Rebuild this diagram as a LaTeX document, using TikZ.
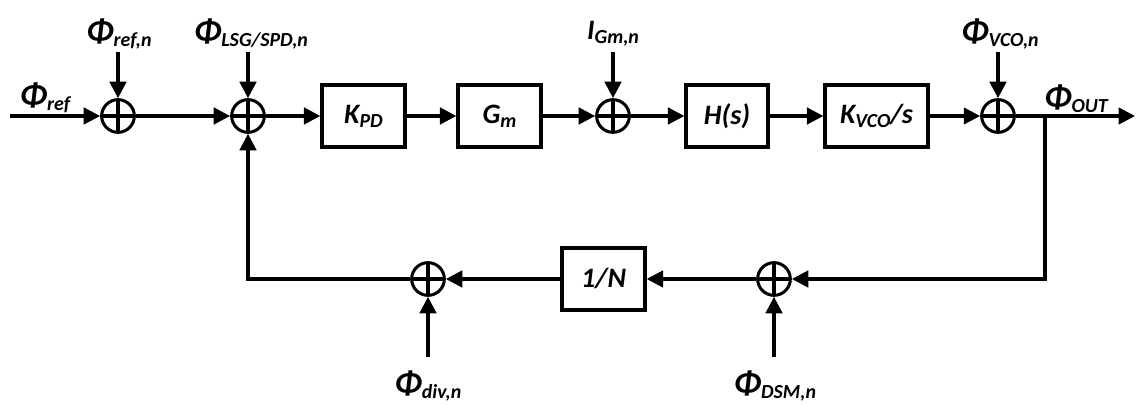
\documentclass[tikz,border=0pt]{standalone}
\usepackage{fontspec}
\setmainfont{Carlito}
\usetikzlibrary{arrows.meta}
\definecolor{Ink}{RGB}{0,0,0}
\newcommand{\subtxt}[1]{\raisebox{-0.15em}{\fontsize{17}{19}\selectfont #1}}
\newcommand{\phisym}{{\fontsize{29}{30}\selectfont Φ}}
\tikzset{
  sum/.style={circle,draw=Ink,line width=2.6pt,minimum size=0.98cm,inner sep=0pt,
    path picture={\draw[line width=2.6pt] (path picture bounding box.north)--(path picture bounding box.south)
      (path picture bounding box.west)--(path picture bounding box.east);}},
  blk/.style={draw=Ink,line width=2.8pt,minimum width=2.49cm,minimum height=1.86cm,inner sep=0pt,font=\bfseries\itshape\fontsize{24}{28}\selectfont},
  sig/.style={->,>={Triangle[length=14pt,width=14pt]},line width=2.8pt,draw=Ink},
  siglabel/.style={font=\bfseries\itshape\fontsize{24}{28}\selectfont,inner sep=1pt}
}

\begin{document}
\begin{tikzpicture}[x=0.03cm,y=0.03cm]
\useasboundingbox (0,0) rectangle (1143,405);
% forward path
\node[sum] (s1) at (118,289) {};
\node[sum] (s2) at (248,289) {};
\node[blk] (kpd) at (363.5,289) {K\subtxt{PD}};
\node[blk] (gm) at (499.5,289) {G\subtxt{m}};
\node[sum] (s3) at (613,289) {};
\node[blk,minimum width=2.46cm] (hs) at (727,289) {H(s)};
\node[blk,minimum width=3.09cm] (kvco) at (876.5,289) {K\subtxt{VCO}/s};
\node[sum] (s4) at (998,289) {};
% feedback path
\node[sum] (s5) at (774,126) {};
\node[blk] (ndiv) at (603.5,126) {1/N};
\node[sum] (s6) at (428,126) {};

\coordinate (in) at (10,289);
\coordinate (br) at (1045,289);
\coordinate (out) at (1135,289);
\coordinate (t1) at (118,353);
\coordinate (t2) at (248,353);
\coordinate (t3) at (613,353);
\coordinate (t4) at (998,353);
\coordinate (b5) at (774,48);
\coordinate (b6) at (428,48);

% labels
\node[siglabel] (lref) at (45,307) {\phisym\subtxt{ref}};
\node[siglabel] (lout) at (1076,306) {\phisym\subtxt{OUT}};
\node[siglabel] (lrefn) at (119,371) {\phisym\subtxt{ref,n}};
\node[siglabel] (llsg) at (251,371) {\phisym\subtxt{LSG/SPD,n}};
\node[siglabel] (lgm) at (613,371) {I\subtxt{Gm,n}};
\node[siglabel] (lvco) at (1000,371) {\phisym\subtxt{VCO,n}};
\node[siglabel] (ldiv) at (428,19) {\phisym\subtxt{div,n}};
\node[siglabel] (ldsm) at (775,19) {\phisym\subtxt{DSM,n}};

\draw[sig](in)--(s1);\draw[sig](s1)--(s2);\draw[sig](s2)--(kpd);\draw[sig](kpd)--(gm);\draw[sig](gm)--(s3);
\draw[sig](s3)--(hs);\draw[sig](hs)--(kvco);\draw[sig](kvco)--(s4);\draw[sig](s4)--(out);
\draw[sig](br)|-(s5);\draw[sig](s5)--(ndiv);\draw[sig](ndiv)--(s6);\draw[sig](s6)-|(s2);
\draw[sig](t1)--(s1);\draw[sig](t2)--(s2);\draw[sig](t3)--(s3);\draw[sig](t4)--(s4);
\draw[sig](b5)--(s5);\draw[sig](b6)--(s6);
\end{tikzpicture}
\end{document}
